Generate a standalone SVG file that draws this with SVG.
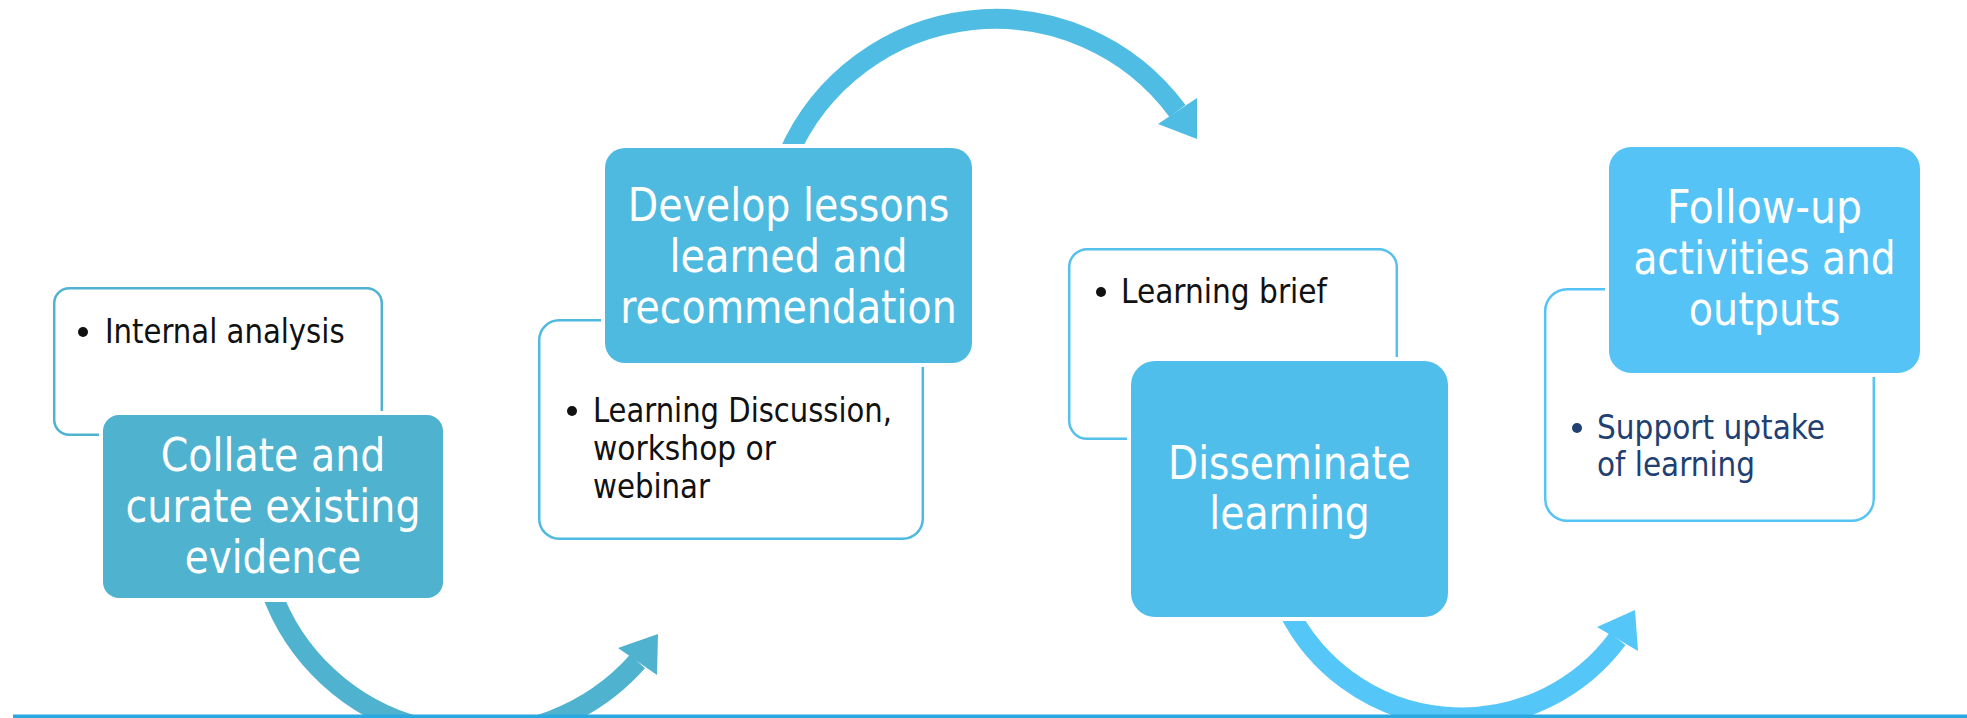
<svg xmlns="http://www.w3.org/2000/svg" width="1967" height="718" viewBox="0 0 1967 718">
  <style>
    .big { font-family: 'DejaVu Sans Condensed', 'DejaVu Sans', sans-serif; font-stretch: condensed; font-size: 45.5px; fill: #ffffff; }
    .small { font-family: 'DejaVu Sans Condensed', 'DejaVu Sans', sans-serif; font-stretch: condensed; font-size: 33.5px; fill: #111111; }
    .navy { fill: #223F72; }
    .outline { fill: #ffffff; stroke-width: 2.5; }
    .card { stroke: #ffffff; stroke-width: 8; paint-order: stroke fill; }
    .band { fill: none; stroke-width: 20; stroke-linecap: butt; }
  </style>

  <rect x="0" y="0" width="1967" height="718" fill="#ffffff"/>

  <!-- curved process arrows -->
  <g id="connectors">
    <path class="band" stroke="#4FB2CF" d="M 270.7 590 A 217 217 0 0 0 637.5 661.5"/>
    <polygon fill="#4FB2CF" points="618,648 658,634 657,675"/>

    <path class="band" stroke="#4FBCE3" d="M 788.1 155 A 226 226 0 0 1 1177.5 111"/>
    <polygon fill="#4FBCE3" points="1158,124 1197,139 1197,98"/>

    <path class="band" stroke="#55C6F8" d="M 1288.1 610 A 194 194 0 0 0 1617.5 639"/>
    <polygon fill="#55C6F8" points="1597,627 1635,610 1638,651"/>
  </g>

  <!-- step 1 -->
  <g id="step-collate">
    <rect class="outline" stroke="#4FB2CF" x="54.2" y="288.2" width="327.6" height="146.6" rx="15"/>
    <circle cx="83" cy="332" r="5" fill="#111111"/>
    <text class="small" x="105" y="343" textLength="239.6" lengthAdjust="spacingAndGlyphs">Internal analysis</text>
    <rect class="card" fill="#4FB2CF" x="103" y="415" width="340" height="183" rx="16"/>
    <text class="big" x="160.7" y="471" textLength="224.6" lengthAdjust="spacingAndGlyphs">Collate and</text>
    <text class="big" x="125.6" y="522" textLength="294.9" lengthAdjust="spacingAndGlyphs">curate existing</text>
    <text class="big" x="184.7" y="573" textLength="176.6" lengthAdjust="spacingAndGlyphs">evidence</text>
  </g>

  <!-- step 2 -->
  <g id="step-develop">
    <rect class="outline" stroke="#4FBAE0" x="539.2" y="320.2" width="383.6" height="218.6" rx="20"/>
    <circle cx="572" cy="411" r="5" fill="#111111"/>
    <text class="small" x="593" y="422" textLength="299" lengthAdjust="spacingAndGlyphs">Learning Discussion,</text>
    <text class="small" x="593" y="460" textLength="183" lengthAdjust="spacingAndGlyphs">workshop or</text>
    <text class="small" x="593" y="498" textLength="117" lengthAdjust="spacingAndGlyphs">webinar</text>
    <rect class="card" fill="#4FBAE0" x="605" y="148" width="367" height="215" rx="20"/>
    <text class="big" x="627.7" y="221" textLength="321.6" lengthAdjust="spacingAndGlyphs">Develop lessons</text>
    <text class="big" x="669.5" y="272" textLength="238.1" lengthAdjust="spacingAndGlyphs">learned and</text>
    <text class="big" x="620.3" y="323" textLength="336.4" lengthAdjust="spacingAndGlyphs">recommendation</text>
  </g>

  <!-- step 3 -->
  <g id="step-disseminate">
    <rect class="outline" stroke="#55C0EC" x="1069.2" y="249.2" width="327.6" height="189.6" rx="18"/>
    <circle cx="1101" cy="292" r="5" fill="#111111"/>
    <text class="small" x="1121" y="303" textLength="206" lengthAdjust="spacingAndGlyphs">Learning brief</text>
    <rect class="card" fill="#50BEEB" x="1131" y="361" width="317" height="256" rx="24"/>
    <text class="big" x="1168.1" y="479" textLength="242.8" lengthAdjust="spacingAndGlyphs">Disseminate</text>
    <text class="big" x="1209.2" y="529" textLength="160.7" lengthAdjust="spacingAndGlyphs">learning</text>
  </g>

  <!-- step 4 -->
  <g id="step-follow-up">
    <rect class="outline" stroke="#55C3F5" x="1545.2" y="289.2" width="328.6" height="231.6" rx="22"/>
    <circle cx="1577" cy="428" r="5" fill="#223F72"/>
    <text class="small navy" x="1597" y="439" textLength="228" lengthAdjust="spacingAndGlyphs">Support uptake</text>
    <text class="small navy" x="1597" y="476" textLength="158" lengthAdjust="spacingAndGlyphs">of learning</text>
    <rect class="card" fill="#55C3F5" x="1609" y="147" width="311" height="226" rx="22"/>
    <text class="big" x="1666.9" y="223" textLength="195.2" lengthAdjust="spacingAndGlyphs">Follow-up</text>
    <text class="big" x="1633.4" y="274" textLength="262.3" lengthAdjust="spacingAndGlyphs">activities and</text>
    <text class="big" x="1688.8" y="325" textLength="151.5" lengthAdjust="spacingAndGlyphs">outputs</text>
  </g>

  <!-- baseline rule along the bottom edge -->
  <rect x="13" y="714.5" width="1954" height="3.5" fill="#2AA8E0"/>
</svg>
